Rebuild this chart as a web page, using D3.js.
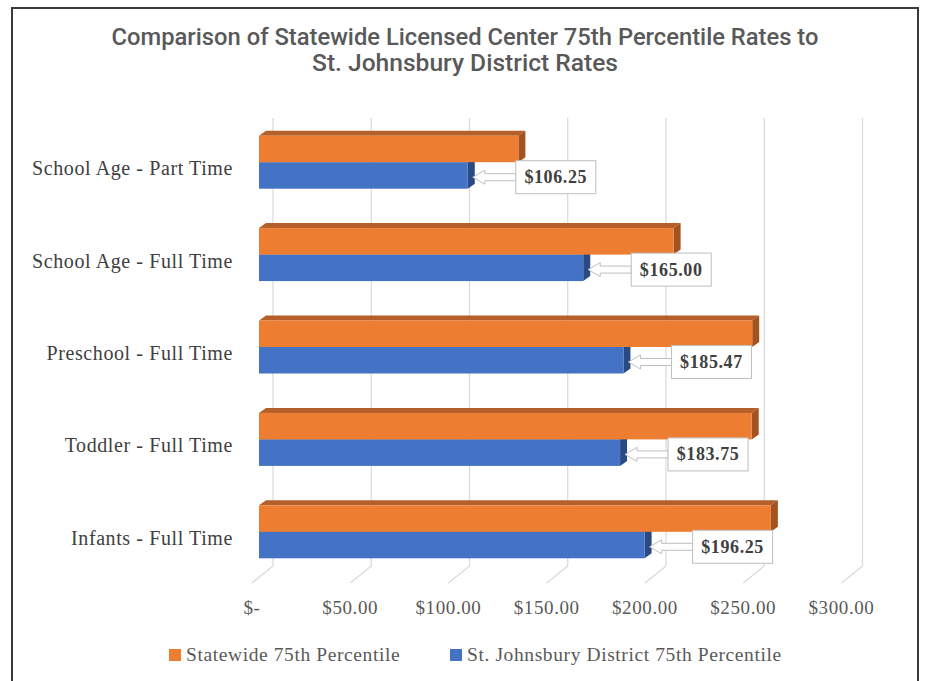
<!DOCTYPE html>
<html>
<head>
<meta charset="utf-8">
<script src="https://cdn.jsdelivr.net/npm/d3@7"></script>
<style>
  body { margin: 0; background: #fff; }
  svg { display: block; }
</style>
</head>
<body>
<svg id="chart"></svg>
<script>
let width = 930;
let height = 681;

// data
const categories = ["School Age - Part Time", "School Age - Full Time", "Preschool - Full Time", "Toddler - Full Time", "Infants - Full Time"];
const statewide = [132.00, 211.00, 251.00, 250.75, 260.50];
const district = [106.25, 165.00, 185.47, 183.75, 196.25];
const tickValues = [0, 50, 100, 150, 200, 250, 300];
const tickLabels = ["$-", "$50.00", "$100.00", "$150.00", "$200.00", "$250.00", "$300.00"];
const seriesNames = ["Statewide 75th Percentile", "St. Johnsbury District 75th Percentile"];
const titleLines = ["Comparison of Statewide Licensed Center 75th Percentile Rates to", "St. Johnsbury District Rates"];

const serif = "'Liberation Serif', 'Times New Roman', serif";
const orange = {front: "#ED7D31", top: "#B5602A", side: "#A5531E"};
const blue = {front: "#4472C4", top: "#34589A", side: "#2A4A84"};

let svg = d3.select("#chart").attr("width", width).attr("height", height);

svg.append("rect").attr("width", width).attr("height", height).attr("fill", "#fff");
svg.append("rect")
  .attr("x", 12).attr("y", 8).attr("width", 906).attr("height", 700)
  .attr("fill", "none").attr("stroke", "#3a3a3a").attr("stroke-width", 2);

// title
svg.selectAll("text.title")
  .data(titleLines)
  .enter()
  .append("text")
  .attr("class", "title")
  .attr("x", width / 2)
  .attr("y", (d, i) => 45 + i * 26)
  .attr("text-anchor", "middle")
  .attr("textLength", (d, i) => i == 0 ? 707 : 306)
  .attr("lengthAdjust", "spacingAndGlyphs")
  .style("font-family", "Roboto, 'Liberation Sans', Arial, sans-serif")
  .style("font-size", "23px")
  .style("font-weight", "500")
  .attr("fill", "#595959")
  .text(d => d);

let x = d3.scaleLinear().domain([0, 300]).range([259, 848.5]);
let y = d3.scaleBand().domain(categories).range([116, 578]);
let barH = 26.5;
let dx = 7, dy = 5;
let floorFront = 583, floorBack = 566, wallTop = 118;

// back wall gridlines + floor lines
let grid = svg.append("g");
grid.selectAll("line.wall")
  .data(tickValues)
  .enter()
  .append("line")
  .attr("x1", d => x(d) + 14).attr("x2", d => x(d) + 14)
  .attr("y1", wallTop).attr("y2", floorBack)
  .attr("stroke", "#d9d9d9").attr("stroke-width", 1.2);
grid.selectAll("line.floor")
  .data(tickValues)
  .enter()
  .append("line")
  .attr("x1", d => x(d) - 7).attr("y1", floorFront)
  .attr("x2", d => x(d) + 14).attr("y2", floorBack)
  .attr("stroke", "#d9d9d9").attr("stroke-width", 1.2);

// tick labels
svg.selectAll("text.tick")
  .data(tickValues)
  .enter()
  .append("text")
  .attr("x", d => x(d) - 7)
  .attr("y", 614)
  .attr("text-anchor", "middle")
  .style("font-family", serif)
  .style("font-size", "19px")
  .style("letter-spacing", "0.6px")
  .attr("fill", "#595959")
  .text((d, i) => tickLabels[i]);

// category labels
svg.selectAll("text.cat")
  .data(categories)
  .enter()
  .append("text")
  .attr("x", 233)
  .attr("y", d => y(d) + y.bandwidth() / 2 + 13)
  .attr("text-anchor", "end")
  .style("font-family", serif)
  .style("font-size", "20px")
  .style("letter-spacing", "0.6px")
  .attr("fill", "#404040")
  .text(d => d);

const bar3d = (g, top, value, col) => {
  let x0 = x(0), x1 = x(value);
  g.append("path")
    .attr("d", `M${x0},${top}L${x0 + dx},${top - dy}L${x1 + dx},${top - dy}L${x1},${top}Z`)
    .attr("fill", col.top);
  g.append("path")
    .attr("d", `M${x1},${top}L${x1 + dx},${top - dy}L${x1 + dx},${top + barH - dy}L${x1},${top + barH}Z`)
    .attr("fill", col.side);
  g.append("rect")
    .attr("x", x0).attr("y", top)
    .attr("width", x1 - x0).attr("height", barH)
    .attr("fill", col.front);
};

let bars = svg.append("g");
categories.forEach((c, i) => {
  let mid = y(c) + y.bandwidth() / 2;
  let g = bars.append("g");
  bar3d(g, mid, district[i], blue);
  bar3d(g, mid - barH, statewide[i], orange);
});

// callouts for district values
let callouts = svg.append("g");
categories.forEach((c, i) => {
  let mid = y(c) + y.bandwidth() / 2;
  let tip = x(district[i]) + 5;
  let boxX = x(district[i]) + 48;
  let cy = mid + 15;
  let g = callouts.append("g");
  g.append("path")
    .attr("d", `M${tip},${cy}L${tip + 12},${cy - 7}L${tip + 12},${cy - 3.5}L${boxX},${cy - 3.5}L${boxX},${cy + 3.5}L${tip + 12},${cy + 3.5}L${tip + 12},${cy + 7}Z`)
    .attr("fill", "#fff").attr("stroke", "#bfbfbf").attr("stroke-width", 1);
  g.append("rect")
    .attr("x", boxX).attr("y", cy - 16.5)
    .attr("width", 80).attr("height", 33)
    .attr("fill", "#fff").attr("stroke", "#bfbfbf").attr("stroke-width", 1);
  g.append("text")
    .attr("x", boxX + 40).attr("y", cy + 6)
    .attr("text-anchor", "middle")
    .style("font-family", serif)
    .style("font-size", "18px")
    .style("font-weight", "bold")
    .style("letter-spacing", "0.6px")
    .attr("fill", "#404040")
    .text("$" + d3.format(".2f")(district[i]));
});

// legend
let legendX = [169, 450];
let legend = svg.append("g");
seriesNames.forEach((s, i) => {
  legend.append("rect")
    .attr("x", legendX[i]).attr("y", 649)
    .attr("width", 12).attr("height", 12)
    .attr("fill", i == 0 ? orange.front : blue.front);
  legend.append("text")
    .attr("x", legendX[i] + 17).attr("y", 661)
    .style("font-family", serif)
    .style("font-size", "19.5px")
    .style("letter-spacing", "0.6px")
    .attr("fill", "#595959")
    .text(s);
});
</script>
</body>
</html>
